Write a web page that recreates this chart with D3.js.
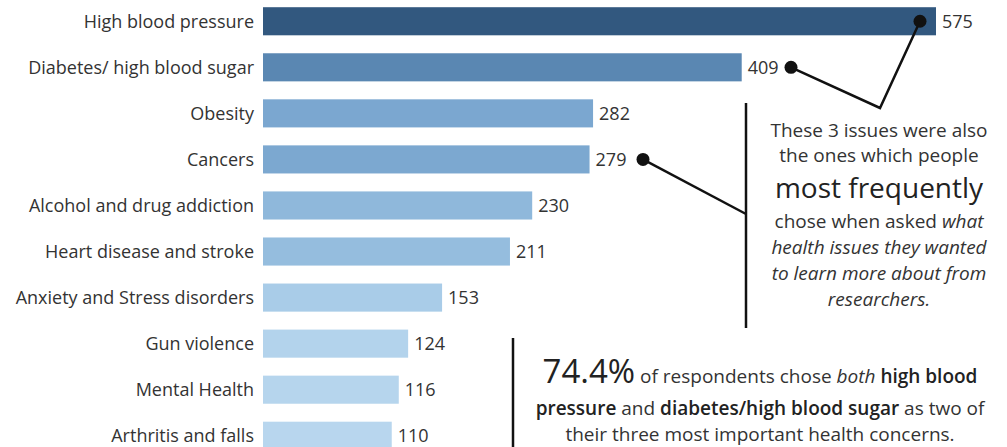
<!DOCTYPE html>
<html lang="en">
<head>
<meta charset="UTF-8">
<title>Health concerns</title>
<script src="https://d3js.org/d3.v7.min.js"></script>
<style>
    body { margin: 0; background: #fff; }
    svg { display: block; }
    text { font-family: "Open Sans", "Noto Sans", sans-serif; fill: #333; }
</style>
</head>
<body>
<svg width="1007" height="447"></svg>
<script>
    // Data
    const issues = ["High blood pressure", "Diabetes/ high blood sugar", "Obesity", "Cancers",
        "Alcohol and drug addiction", "Heart disease and stroke", "Anxiety and Stress disorders",
        "Gun violence", "Mental Health", "Arthritis and falls"];
    const counts = [575, 409, 282, 279, 230, 211, 153, 124, 116, 110];

    const svg = d3.select("svg");
    const left = 263;

    const x = d3.scaleLinear().domain([0, 575]).range([left, 936]);
    const y = d3.scaleBand().domain(issues).range([-2, 459]).paddingInner(0.39).paddingOuter(0.2);

    const color = d3.scaleLinear()
        .domain([110, 153, 230, 280, 409, 575])
        .range(["#b8d6ee", "#a9cce8", "#8fb8db", "#7ca8d0", "#5a87b2", "#32587f"]);

    // Bars
    svg.append("g").selectAll("rect")
        .data(issues)
        .enter().append("rect")
        .attr("x", left)
        .attr("y", d => y(d))
        .attr("width", (d, i) => x(counts[i]) - left)
        .attr("height", y.bandwidth())
        .attr("fill", (d, i) => color(counts[i]));

    // Category labels
    svg.append("g").selectAll("text")
        .data(issues)
        .enter().append("text")
        .attr("x", left - 9)
        .attr("y", d => y(d) + y.bandwidth() / 2)
        .attr("dy", "0.35em")
        .attr("text-anchor", "end")
        .attr("font-size", "18px")
        .text(d => d);

    // Value labels
    svg.append("g").selectAll("text")
        .data(issues)
        .enter().append("text")
        .attr("x", (d, i) => x(counts[i]) + 6)
        .attr("y", d => y(d) + y.bandwidth() / 2)
        .attr("dy", "0.35em")
        .attr("font-size", "18px")
        .text((d, i) => counts[i]);

    // Annotation connectors
    const cy = name => y(name) + y.bandwidth() / 2;
    const ann = svg.append("g").attr("stroke", "#111").attr("stroke-width", 2.5).attr("fill", "none");
    ann.append("polyline")
        .attr("points", [[791, cy(issues[1])], [880, 108], [920, cy(issues[0])]].join(" "));
    ann.append("line").attr("x1", 643).attr("y1", cy(issues[3])).attr("x2", 746).attr("y2", 214);
    ann.append("line").attr("x1", 746).attr("y1", 103).attr("x2", 746).attr("y2", 328);
    ann.append("line").attr("x1", 513).attr("y1", 338).attr("x2", 513).attr("y2", 447);

    const dots = [[920, cy(issues[0])], [791, cy(issues[1])], [643, cy(issues[3])]];
    svg.append("g").selectAll("circle")
        .data(dots)
        .enter().append("circle")
        .attr("cx", d => d[0])
        .attr("cy", d => d[1])
        .attr("r", 6.5)
        .attr("fill", "#111");

    // Text block 1
    const t1 = svg.append("text").attr("text-anchor", "middle").attr("font-size", "19px");
    const lines1 = [
        { y: 137, parts: [["These 3 issues were also", ""]] },
        { y: 162, parts: [["the ones which people", ""]] },
        { y: 198, parts: [["most frequently", "big"]] },
        { y: 228, parts: [["chose when asked ", ""], ["what", "i"]] },
        { y: 254, parts: [["health issues they wanted", "i"]] },
        { y: 280, parts: [["to learn more about from", "i"]] },
        { y: 306, parts: [["researchers.", "i"]] }
    ];
    lines1.forEach(l => {
        const line = t1.append("tspan").attr("x", 879).attr("y", l.y);
        l.parts.forEach(p => {
            const s = line.append("tspan").text(p[0]);
            if (p[1] === "i") s.attr("font-style", "italic");
            if (p[1] === "big") s.attr("font-size", "28px").attr("fill", "#222");
        });
    });

    // Text block 2
    const t2 = svg.append("text").attr("text-anchor", "middle").attr("font-size", "19px");
    const l1 = t2.append("tspan").attr("x", 760).attr("y", 383);
    l1.append("tspan").attr("font-size", "33px").attr("fill", "#222").text("74.4%");
    l1.append("tspan").text(" of respondents chose ");
    l1.append("tspan").attr("font-style", "italic").text("both");
    l1.append("tspan").attr("font-weight", 600).attr("fill", "#222").text(" high blood");
    const l2 = t2.append("tspan").attr("x", 760).attr("y", 415);
    l2.append("tspan").attr("font-weight", 600).attr("fill", "#222").text("pressure");
    l2.append("tspan").text(" and ");
    l2.append("tspan").attr("font-weight", 600).attr("fill", "#222").text("diabetes/high blood sugar");
    l2.append("tspan").text(" as two of");
    t2.append("tspan").attr("x", 760).attr("y", 441).text("their three most important health concerns.");
</script>
</body>
</html>
